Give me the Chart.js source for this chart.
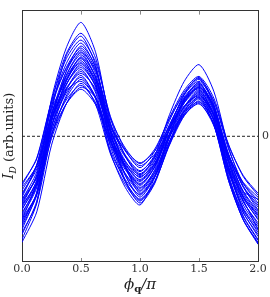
<!DOCTYPE html>
<html>
<head>
<meta charset="utf-8">
<script src="https://cdn.jsdelivr.net/npm/chart.js@4.4.0/dist/chart.umd.min.js"></script>
<style>
  html, body { margin: 0; padding: 0; background: #fff; }
  #wrap { width: 270px; height: 297px; }
</style>
</head>
<body>
<div id="wrap"><canvas id="chart"></canvas></div>
<script>
// phi_q / pi sample points
const phi = [0, 0.125, 0.25, 0.375, 0.5, 0.625, 0.75, 0.875, 1.0, 1.125, 1.25, 1.375, 1.5, 1.625, 1.75, 1.875, 2.0];
const xTicks = [0, 0.5, 1.0, 1.5, 2.0];

// I_D curves (arb. units)
const curves = [
  [-8.5,-4.7,3.8,9.0,11.6,8.5,1.3,-3.1,-5.5,-3.4,0.8,4.3,6.0,3.3,-2.6,-6.6,-9.0],
  [-6.0,-2.9,3.6,8.4,10.5,7.9,1.8,-2.0,-4.0,-2.0,2.2,5.6,7.3,4.6,-1.1,-5.1,-7.5],
  [-9.5,-5.8,2.5,8.2,10.2,7.2,0.4,-3.9,-6.2,-4.1,0.2,3.7,5.5,2.7,-3.4,-7.7,-10.2],
  [-5.0,-2.2,3.6,7.9,9.8,7.5,2.0,-1.4,-3.2,-1.5,1.9,4.7,6.1,3.9,-0.8,-4.1,-6.0],
  [-7.0,-3.9,3.1,7.4,9.5,6.9,0.8,-3.0,-5.0,-3.1,0.9,4.2,5.8,3.2,-2.4,-6.2,-8.5],
  [-10.5,-6.8,1.5,6.6,9.2,7.0,-0.4,-4.6,-6.8,-4.8,-0.6,2.8,4.5,1.7,-4.3,-8.5,-11.0],
  [-6.5,-3.6,3.0,7.0,9.0,6.7,1.3,-2.0,-3.8,-2.2,1.2,3.9,5.2,3.0,-1.8,-5.1,-7.0],
  [-8.0,-4.8,2.2,6.6,8.8,6.3,0.4,-3.2,-5.2,-3.5,-0.1,2.6,4.0,1.6,-3.7,-6.5,-9.5],
  [-4.8,-2.3,3.4,6.9,8.6,6.6,1.8,-1.2,-2.8,-1.3,1.8,4.3,5.6,3.6,-0.9,-4.0,-5.8],
  [-9.0,-5.7,1.7,6.2,8.5,5.9,-0.2,-4.0,-6.0,-4.1,-0.1,3.8,4.8,2.1,-3.9,-8.1,-10.5],
  [-7.5,-4.5,2.1,6.2,8.3,6.0,0.6,-2.7,-4.5,-2.8,0.7,3.6,5.0,2.7,-2.4,-5.9,-8.0],
  [-5.5,-2.9,2.8,5.6,8.1,6.0,1.1,-1.9,-3.5,-2.1,0.7,3.0,4.2,2.3,-1.9,-4.8,-6.5],
  [-10.0,-6.6,1.0,5.7,8.0,5.4,0.3,-4.5,-6.5,-4.6,-0.8,2.3,3.8,1.2,-4.5,-8.5,-10.8],
  [-6.8,-4.0,2.2,6.0,7.9,5.7,0.6,-2.5,-4.2,-2.5,1.1,4.0,5.4,3.0,-2.1,-5.7,-7.8],
  [-8.2,-5.2,1.5,5.6,7.7,5.3,-0.4,-3.2,-5.8,-3.9,-0.1,3.0,4.6,2.1,-3.3,-7.0,-9.2],
  [-5.8,-3.3,2.3,5.8,7.5,5.6,1.2,-1.5,-3.0,-1.8,0.6,2.5,3.5,1.8,-2.0,-4.7,-6.2],
  [-9.2,-6.0,0.9,5.2,7.4,5.1,-0.4,-3.8,-5.6,-3.7,0.2,3.4,5.0,3.0,-3.4,-7.4,-9.8],
  [-7.2,-4.5,1.6,5.3,7.2,5.0,0.0,-3.1,-4.8,-3.1,0.3,3.0,4.4,2.0,-3.1,-6.7,-8.8],
  [-6.2,-3.0,1.9,5.3,7.0,5.1,0.6,-2.1,-3.6,-1.9,1.6,4.5,5.9,3.6,-1.3,-4.8,-6.8],
  [-8.8,-5.8,1.6,4.8,6.8,4.4,-1.1,-4.6,-6.4,-4.6,-0.9,2.1,3.6,1.2,-4.2,-7.8,-10.0],
  [-7.8,-5.1,1.0,4.7,6.6,4.6,0.0,-2.9,-4.4,-2.7,0.7,3.5,4.9,2.5,-2.6,-6.1,-8.2],
  [-5.2,-3.0,1.9,4.9,6.4,4.8,0.9,-1.4,-2.7,-1.5,1.0,3.1,4.1,2.2,-1.9,-5.6,-6.4],
  [-9.8,-6.8,0.0,4.1,6.2,3.8,-1.7,-5.2,-7.0,-4.2,-0.8,2.6,4.3,1.6,-4.2,-8.2,-10.6],
  [-6.6,-4.2,1.1,4.4,6.0,4.0,-0.5,-3.4,-4.9,-3.1,0.7,3.8,5.3,3.1,-1.8,-5.2,-7.2],
  [-8.6,-5.9,0.2,3.9,5.8,3.8,-0.9,-3.8,-5.3,-3.7,-0.5,2.1,3.4,1.1,-3.2,-7.5,-9.6],
  [-7.4,-4.9,0.5,4.6,5.6,3.9,-0.1,-2.6,-3.9,-2.4,0.8,3.4,4.7,2.3,-2.8,-6.3,-8.4],
  [-10.8,-7.7,-0.9,3.3,5.4,3.2,-1.8,-4.9,-6.6,-4.7,0.2,2.3,3.9,1.2,-4.5,-8.5,-10.9],
  [-6.4,-4.2,0.7,3.7,5.2,3.4,-0.7,-3.2,-4.6,-2.9,0.7,3.6,5.1,2.8,-2.1,-5.6,-7.6],
  [-8.4,-5.9,-0.2,3.3,5.0,3.9,-1.5,-4.4,-5.9,-4.1,-0.5,2.5,4.0,1.6,-3.6,-7.3,-9.4],
  [-7.0,-4.8,0.2,3.3,4.8,3.2,-0.5,-2.9,-4.1,-2.8,0.0,2.2,3.3,1.3,-3.1,-6.2,-8.0]
];

const yMin = -12.7, yMax = 12.8;
const serif = "'DejaVu Serif', 'Liberation Serif', serif";
const frameColor = "#333";

const datasets = curves.map(c => ({
  data: phi.map((x, i) => ({ x, y: c[i] })),
  borderColor: "#0000ff",
  borderWidth: 1,
  pointRadius: 0,
  tension: 0.25,
  fill: false
}));
datasets.push({
  data: [{ x: 0, y: 0 }, { x: 2, y: 0 }],
  borderColor: "#222",
  borderWidth: 1,
  borderDash: [3, 2],
  pointRadius: 0,
  tension: 0
});

// axis labels with sub-scripts + inner tick marks
const labelsPlugin = {
  id: "labels",
  afterDraw(chart) {
    const { ctx, chartArea: a, scales } = chart;
    ctx.save();
    // inward ticks top/bottom
    ctx.strokeStyle = "#888";
    ctx.lineWidth = 1;
    [0.5, 1.0, 1.5].forEach(v => {
      const px = Math.round(scales.x.getPixelForValue(v)) + 0.5;
      ctx.beginPath();
      ctx.moveTo(px, a.bottom); ctx.lineTo(px, a.bottom - 3);
      ctx.moveTo(px, a.top); ctx.lineTo(px, a.top + 4);
      ctx.stroke();
    });
    ctx.fillStyle = "#222";
    ctx.textBaseline = "alphabetic";
    // x title: phi_q / pi
    const cx = (a.left + a.right) / 2;
    const by = 289;
    ctx.font = "italic 15px " + serif;
    const wPhi = ctx.measureText("ϕ").width;
    ctx.font = "bold 10px " + serif;
    const wQ = ctx.measureText("q").width;
    ctx.font = "italic 15px " + serif;
    const wRest = ctx.measureText("/π").width;
    let x0 = cx - (wPhi + wQ + wRest) / 2;
    ctx.textAlign = "left";
    ctx.fillText("ϕ", x0, by);
    ctx.font = "bold 10px " + serif;
    ctx.fillText("q", x0 + wPhi, by + 3);
    ctx.font = "italic 15px " + serif;
    ctx.fillText("/π", x0 + wPhi + wQ, by);
    // y title: I_D (arb.units)
    ctx.translate(13, (a.top + a.bottom) / 2);
    ctx.rotate(-Math.PI / 2);
    ctx.font = "italic 14px " + serif;
    const wI = ctx.measureText("I").width;
    ctx.font = "italic 9px " + serif;
    const wD = ctx.measureText("D").width;
    ctx.font = "13px " + serif;
    const wU = ctx.measureText(" (arb.units)").width;
    x0 = -(wI + wD + wU) / 2;
    ctx.font = "italic 14px " + serif;
    ctx.fillText("I", x0, 0);
    ctx.font = "italic 9px " + serif;
    ctx.fillText("D", x0 + wI, 3);
    ctx.font = "13px " + serif;
    ctx.fillText(" (arb.units)", x0 + wI + wD, 0);
    ctx.restore();
  }
};

new Chart(document.getElementById("chart"), {
  type: "line",
  data: { datasets },
  plugins: [labelsPlugin],
  options: {
    responsive: true,
    maintainAspectRatio: false,
    animation: false,
    layout: { padding: 0 },
    plugins: { legend: { display: false }, tooltip: { enabled: false } },
    scales: {
      x: {
        type: "linear", min: 0, max: 2,
        afterBuildTicks: s => { s.ticks = xTicks.map(v => ({ value: v })); },
        afterFit: s => { s.height = 36; },
        grid: { display: false, drawTicks: false },
        border: { color: frameColor, width: 1 },
        ticks: { color: "#333", padding: 2, maxRotation: 0, font: { family: serif, size: 11 },
                 callback: v => v.toFixed(1) }
      },
      x2: {
        type: "linear", position: "top", min: 0, max: 2,
        afterFit: s => { s.height = 5; },
        grid: { display: false, drawTicks: false },
        border: { color: frameColor, width: 1 },
        ticks: { display: false }
      },
      y: {
        min: yMin, max: yMax,
        afterFit: s => { s.width = 22; },
        grid: { display: false, drawTicks: false },
        border: { color: frameColor, width: 1 },
        ticks: { display: false }
      },
      y2: {
        position: "right", min: yMin, max: yMax,
        afterBuildTicks: s => { s.ticks = [{ value: 0 }]; },
        afterFit: s => { s.width = 12; },
        grid: { display: false, drawTicks: false },
        border: { color: frameColor, width: 1 },
        ticks: { color: "#333", padding: 4, font: { family: serif, size: 11 } }
      }
    }
  }
});
</script>
</body>
</html>
